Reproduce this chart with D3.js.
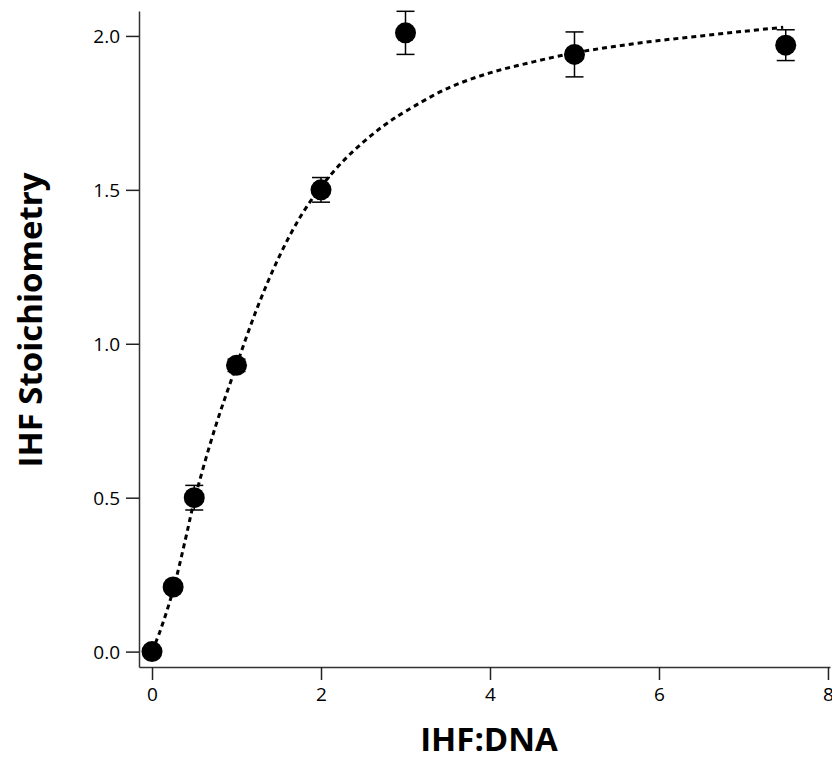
<!DOCTYPE html>
<html>
<head>
<meta charset="utf-8">
<script src="https://cdn.jsdelivr.net/npm/d3@7"></script>
<style>
  body { margin: 0; background: #fff; }
  svg { display: block; }
  .tick text { font-family: "Open Sans", sans-serif; font-size: 19px; fill: #000; }
  .title { font-family: "Open Sans", sans-serif; font-weight: bold; font-size: 33px; fill: #000; }
</style>
</head>
<body>
<div id="chart"></div>
<script>
// measured points (IHF:DNA ratio vs stoichiometry) with error bars
const ratio = [0, 0.25, 0.5, 1, 2, 3, 5, 7.5]
const stoich = [0, 0.21, 0.50, 0.93, 1.50, 2.01, 1.94, 1.97]
const err = [0, 0.01, 0.04, 0.02, 0.04, 0.07, 0.073, 0.05]

// fitted curve
const fitX = [0, 0.1, 0.25, 0.4, 0.5, 0.75, 1.0, 1.25, 1.5, 1.75, 2.0, 2.25, 2.5, 2.75, 3.0, 3.5, 4.0, 4.5, 5.0, 5.5, 6.0, 6.5, 7.0, 7.47]
const fitY = [0, 0.07, 0.2, 0.37, 0.49, 0.73, 0.93, 1.12, 1.28, 1.41, 1.51, 1.59, 1.655, 1.71, 1.755, 1.83, 1.88, 1.915, 1.945, 1.967, 1.985, 2.0, 2.015, 2.028]

const xTicks = [0, 2, 4, 6, 8]
const yTicks = [0, 0.5, 1.0, 1.5, 2.0]

function draw() {
    const width = 832
    const height = 759

    const svg = d3.select("#chart").append("svg")
        .attr("width", width)
        .attr("height", height)

    const x = d3.scaleLinear().domain([-0.154, 8.024]).range([139, 830])
    const y = d3.scaleLinear().domain([-0.05, 2.081]).range([667, 11])

    // axes
    svg.append("g")
        .attr("transform", "translate(0,667)")
        .call(d3.axisBottom(x).tickValues(xTicks).tickFormat(d3.format("d")).tickSize(13).tickSizeOuter(0).tickPadding(8))
    const yAxis = svg.append("g")
        .attr("transform", "translate(139,0)")
        .call(d3.axisLeft(y).tickValues(yTicks).tickFormat(d3.format(".1f")).tickSize(13).tickSizeOuter(0).tickPadding(6))

    svg.selectAll(".domain").attr("stroke", "#333").attr("stroke-width", 1.5)
    svg.selectAll(".tick line").attr("stroke", "#222").attr("stroke-width", 1.5)
    yAxis.selectAll(".tick text").attr("dy", "0.35em")

    // fit curve
    const line = d3.line()
        .x((d, i) => x(fitX[i]))
        .y(d => y(d))
        .curve(d3.curveCatmullRom)
    svg.append("path")
        .datum(fitY)
        .attr("d", line)
        .attr("fill", "none")
        .attr("stroke", "#000")
        .attr("stroke-width", 3)
        .attr("stroke-dasharray", "5,4")

    // error bars
    const pts = ratio.map((r, i) => ({x: r, y: stoich[i], e: err[i]}))
    const eb = svg.append("g").attr("stroke", "#000").attr("stroke-width", 1.5)
    pts.filter(d => d.e > 0).forEach(d => {
        eb.append("line").attr("x1", x(d.x)).attr("x2", x(d.x)).attr("y1", y(d.y - d.e)).attr("y2", y(d.y + d.e))
        eb.append("line").attr("x1", x(d.x) - 9).attr("x2", x(d.x) + 9).attr("y1", y(d.y - d.e)).attr("y2", y(d.y - d.e))
        eb.append("line").attr("x1", x(d.x) - 9).attr("x2", x(d.x) + 9).attr("y1", y(d.y + d.e)).attr("y2", y(d.y + d.e))
    })

    // points
    svg.append("g").selectAll("circle")
        .data(pts)
        .join("circle")
        .attr("cx", d => x(d.x))
        .attr("cy", d => y(d.y))
        .attr("r", 10.5)
        .attr("fill", "#000")

    // axis titles
    svg.append("text")
        .attr("class", "title")
        .attr("x", 489)
        .attr("y", 751)
        .attr("text-anchor", "middle")
        .text("IHF:DNA")
    svg.append("text")
        .attr("class", "title")
        .attr("transform", "translate(42,320) rotate(-90)")
        .attr("text-anchor", "middle")
        .text("IHF Stoichiometry")
}

draw()
</script>
</body>
</html>
